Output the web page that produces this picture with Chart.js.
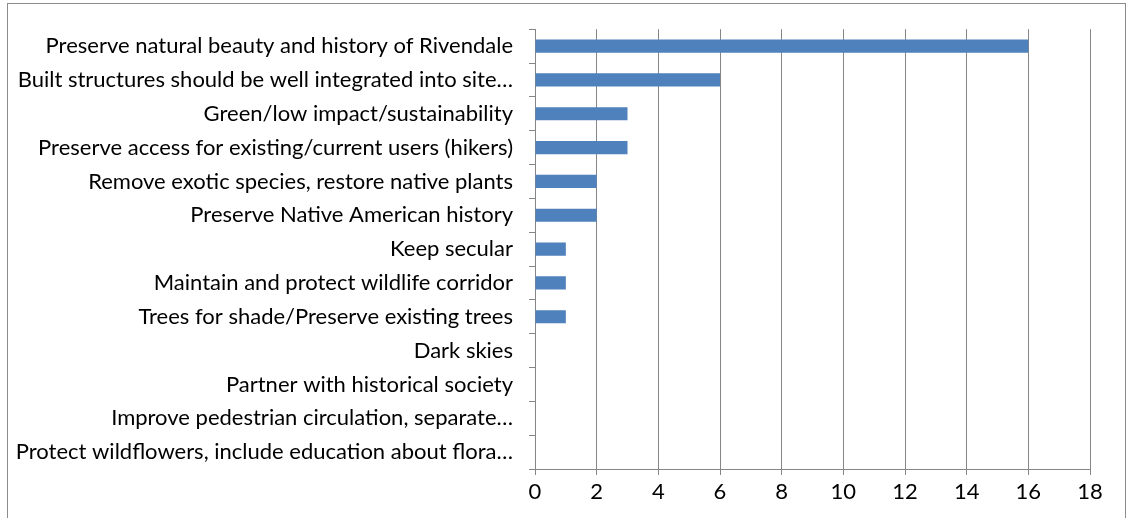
<!DOCTYPE html>
<html lang="en">

<head>
  <title></title>
  <meta charset="UTF-8">
  <script src="https://cdn.jsdelivr.net/npm/chart.js@4.4.1/dist/chart.umd.min.js"></script>
  <style>
    body { margin: 0; background: #fff; }
    #frame { position: absolute; left: 7px; top: 3px; width: 1119px; height: 540px; border: 1px solid #8c8c8c; box-sizing: border-box; }
    #wrap { position: absolute; left: 0; top: 0; width: 1131px; height: 518px; }
  </style>
</head>

<body>
  <div id="frame"></div>
  <div id="wrap"><canvas id="myChart" width="1131" height="518"></canvas></div>
  <script>
    const categories = [
      "Preserve natural beauty and history of Rivendale",
      "Built structures should be well integrated into site…",
      "Green/low impact/sustainability",
      "Preserve access for existing/current users (hikers)",
      "Remove exotic species, restore native plants",
      "Preserve Native American history",
      "Keep secular",
      "Maintain and protect wildlife corridor",
      "Trees for shade/Preserve existing trees",
      "Dark skies",
      "Partner with historical society",
      "Improve pedestrian circulation, separate…",
      "Protect wildflowers, include education about flora…"
    ];
    const counts = [16, 6, 3, 3, 2, 2, 1, 1, 1, 0, 0, 0, 0];
    const xTicks = [0, 2, 4, 6, 8, 10, 12, 14, 16, 18];

    const gridGray = "#868686";
    const font = { family: "Lato", size: 22 };

    new Chart("myChart", {
      type: "bar",
      data: {
        labels: categories,
        datasets: [{
          data: counts,
          backgroundColor: "#4F81BD",
          barPercentage: 0.39,
          categoryPercentage: 1
        }]
      },
      options: {
        indexAxis: "y",
        responsive: false,
        animation: false,
        layout: { padding: { top: 29, right: 41, bottom: 0, left: 0 } },
        plugins: { legend: { display: false }, tooltip: { enabled: false } },
        scales: {
          x: {
            min: 0,
            max: 18,
            afterBuildTicks: function (scale) {
              scale.ticks = xTicks.map(v => ({ value: v }));
            },
            afterFit: function (scale) { scale.height = 49; },
            grid: { color: gridGray, tickLength: 6, drawTicks: true },
            border: { color: gridGray },
            ticks: { color: "#000", font: font, padding: 4, maxRotation: 0 }
          },
          y: {
            afterFit: function (scale) { scale.width = 535; },
            grid: { offset: true, drawOnChartArea: false, color: gridGray, tickLength: 6 },
            border: { color: gridGray },
            ticks: { color: "#000", font: font, padding: 16, autoSkip: false }
          }
        }
      }
    });
  </script>
</body>

</html>
